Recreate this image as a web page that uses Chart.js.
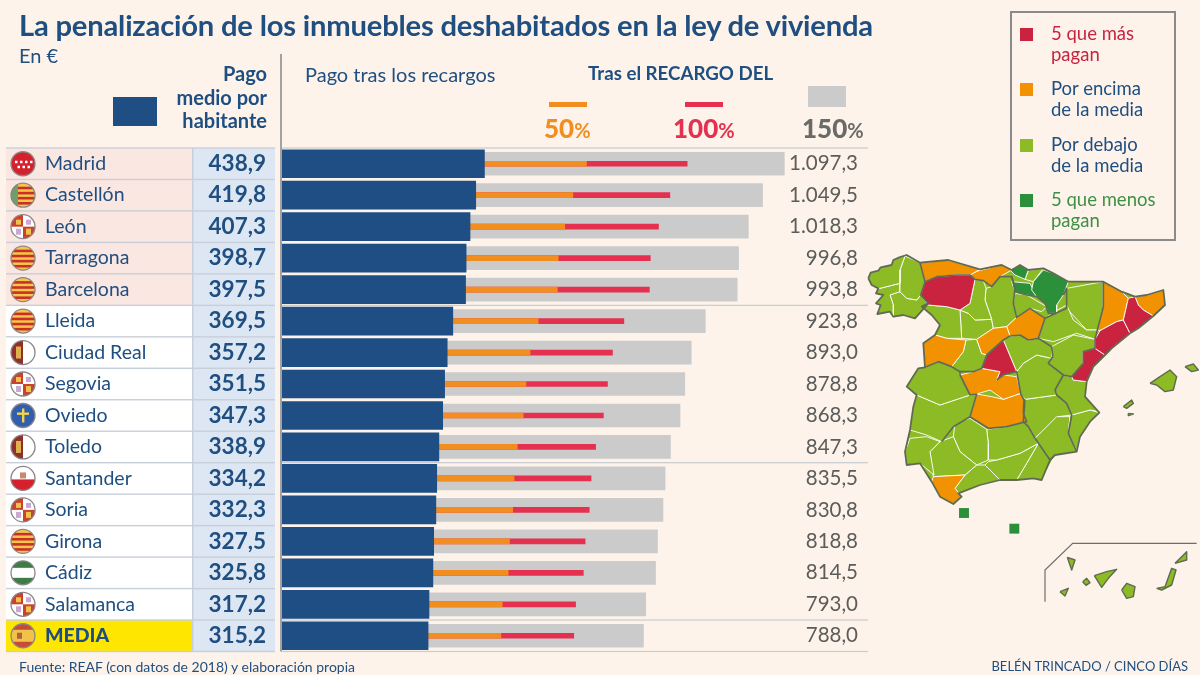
<!DOCTYPE html>
<html>
<head>
<meta charset="utf-8">
<title>La penalización de los inmuebles deshabitados en la ley de vivienda</title>
<script src="https://cdn.jsdelivr.net/npm/chart.js@4"></script>
<style>
	html, body { margin: 0; padding: 0; background: #fdf3ea; }
	body { width: 1200px; height: 675px; position: relative; overflow: hidden; font-family: Lato, sans-serif; color: #1f4e80; }
	canvas { position: absolute; }
	.t { position: absolute; white-space: nowrap; line-height: 1; }
	.b { font-weight: 700; }
	.sw { position: absolute; }
	.big { font-size: 26px; font-weight: 900; }
	.pc { font-size: 20px; font-weight: 700; }
	.ley { font-size: 18.5px; line-height: 20.5px; }
</style>
</head>
<body>
<canvas id="barras" width="1200" height="675" style="left:0;top:0"></canvas>
<canvas id="mapa" width="340" height="400" style="left:860px;top:240px"></canvas>

<div class="t b" id="titulo" style="left:19px;top:10px;font-size:29.2px;letter-spacing:-0.2px">La penalización de los inmuebles deshabitados en la ley de vivienda</div>
<div class="t" style="left:19px;top:45px;font-size:20px">En €</div>
<div class="t b" style="right:933px;top:63px;font-size:20px">Pago</div>
<div class="t b" style="right:933px;top:87px;font-size:20px">medio por</div>
<div class="t b" style="right:933px;top:110px;font-size:20px">habitante</div>
<div class="sw" style="left:113px;top:97px;width:44px;height:29px;background:#1f4e85"></div>
<div class="t" style="left:305px;top:64px;font-size:20px">Pago tras los recargos</div>
<div class="t b" style="left:588px;top:64px;font-size:18.7px">Tras el RECARGO DEL</div>
<div class="sw" style="left:549px;top:102px;width:38px;height:5px;background:#f28e1f"></div>
<div class="sw" style="left:685px;top:102px;width:38px;height:5px;background:#e5304f"></div>
<div class="sw" style="left:808px;top:86px;width:38px;height:21px;background:#cbcbcb"></div>
<div class="t" style="left:544px;top:115px;color:#f28e1f"><span class="big">50</span><span class="pc">%</span></div>
<div class="t" style="left:673px;top:115px;color:#e5304f"><span class="big">100</span><span class="pc">%</span></div>
<div class="t" style="left:802px;top:115px;color:#6a6a68"><span class="big">150</span><span class="pc">%</span></div>
<div class="t" style="left:19px;top:660px;font-size:14px">Fuente: REAF (con datos de 2018) y elaboración propia</div>
<div class="t" style="right:12px;top:660px;font-size:13px">BELÉN TRINCADO / CINCO DÍAS</div>

<div style="position:absolute;left:1010px;top:11px;width:162px;height:226px;border:2px solid #8a8a8a;box-sizing:content-box"></div>
<div class="sw" style="left:1020px;top:28px;width:13px;height:13px;background:#c9233f"></div>
<div class="sw" style="left:1020px;top:83px;width:13px;height:13px;background:#f39200"></div>
<div class="sw" style="left:1020px;top:139px;width:13px;height:13px;background:#8dbb25"></div>
<div class="sw" style="left:1020px;top:194px;width:13px;height:13px;background:#2c8f3a"></div>
<div class="t ley" style="left:1051px;top:23px;color:#c9233f">5 que más<br>pagan</div>
<div class="t ley" style="left:1051px;top:78px">Por encima<br>de la media</div>
<div class="t ley" style="left:1051px;top:134px">Por debajo<br>de la media</div>
<div class="t ley" style="left:1051px;top:189px;color:#3f8f45">5 que menos<br>pagan</div>

<script>
	// datos
	var ciudades = ["Madrid","Castellón","León","Tarragona","Barcelona","Lleida","Ciudad Real","Segovia","Oviedo","Toledo","Santander","Soria","Girona","Cádiz","Salamanca","MEDIA"];
	var pagoMedio = [438.9,419.8,407.3,398.7,397.5,369.5,357.2,351.5,347.3,338.9,334.2,332.3,327.5,325.8,317.2,315.2];
	var recargo50 = [663,633,615,601,599,557,539,530,524,511,504,501,494,491,478,475];
	var recargo100 = [884,846,821,803,801,745,720,709,700,683,673,669,660,656,639,635];
	var recargo150 = [1097.3,1049.5,1018.3,996.8,993.8,923.8,893.0,878.8,868.3,847.3,835.5,830.8,818.8,814.5,793.0,788.0];
	var escudos = ["mad","val","cyl","cat","cat","cat","clm","cyl","ast","clm","can","cyl","cat","and","cyl","esp"];

	// contornos del mapa, en unidades del propio mapa
	var peninsula = [25,115,32,98,55,92,62,82,95,75,100,60,118,52,140,45,180,68,265,60,360,88,425,75,455,90,480,75,505,90,550,85,580,100,625,125,730,125,785,155,825,170,860,165,910,150,915,195,880,228,835,265,810,280,755,325,735,345,700,380,680,425,675,470,718,518,690,545,660,590,650,635,585,645,570,660,545,720,520,715,470,720,420,720,360,735,295,760,305,770,280,792,240,770,215,725,180,670,140,675,135,635,150,570,160,500,170,465,140,440,175,385,195,382,190,310,225,285,240,255,215,225,185,200,205,190,165,235,130,225,100,230,90,215,52,222,62,195,48,190,70,165,48,160,55,145,35,135,25,115];
	var rojo = {
		leon: [195,125,230,110,290,105,330,105,345,118,330,190,300,210,260,200,205,195,182,165],
		madrid: [430,300,470,395,430,405,410,420,420,395,365,385,380,345],
		barcelona: [805,175,825,170,835,195,850,210,880,228,835,265,810,280,790,240],
		tarragona: [720,272,770,245,790,240,810,280,755,325,735,345,705,325,705,298],
		castellon: [670,335,705,325,735,345,700,380,680,425,640,420,635,410,670,370]
	};
	var naranja = {
		asturias: [180,68,265,60,360,88,330,105,290,105,230,110,195,125],
		cantabria: [345,95,425,75,455,90,420,110,395,140,370,122,345,118,330,105,360,88],
		segovia: [350,298,400,265,440,260,450,288,430,300,380,345,365,340],
		soria: [440,260,470,232,510,205,555,235,535,295,505,300,480,285,450,288],
		lleida: [730,125,785,155,805,175,790,240,770,245,720,272,712,270,730,200],
		girona: [825,170,860,165,910,150,915,195,880,228,850,210,835,195],
		salamanca: [225,285,260,295,318,300,310,335,275,380,235,365,195,382,190,310],
		toledo: [300,405,340,395,365,385,420,395,410,420,430,405,470,410,482,460,430,478,390,450,350,462,330,465],
		ciudadReal: [350,462,395,470,430,478,482,460,492,480,490,520,500,545,440,560,385,565,330,530],
		cadiz: [220,710,315,705,285,745,305,770,280,792,240,770,215,725]
	};
	var verde = {
		coruna: [25,115,32,98,55,92,62,82,95,75,100,60,118,52,135,48,120,90,120,130,60,145,55,145,35,135],
		lugo: [135,48,180,68,195,125,182,165,170,180,140,175,120,155,120,90],
		pontevedra: [55,145,60,145,120,130,120,155,90,165,100,195,100,230,90,215,52,222,62,195,48,190,70,165,48,160],
		ourense: [90,165,120,155,140,175,170,180,182,165,205,190,165,235,130,225,100,230,100,195],
		palencia: [345,118,370,122,378,145,375,180,395,238,345,240,325,220,300,210,330,190],
		burgos: [378,145,395,140,420,110,455,110,465,145,460,190,470,232,440,260,400,265,395,238,375,180],
		zamora: [205,195,260,200,300,210,305,295,260,295,225,285,240,255,215,225,185,200],
		valladolid: [300,210,325,220,345,240,395,238,400,265,350,298,305,295],
		avila: [318,300,350,298,365,340,380,345,365,385,340,395,300,395,275,380,310,335],
		guadalajara: [450,288,480,285,505,300,535,295,575,320,575,355,530,345,490,370,470,395,430,300],
		cuenca: [470,395,490,370,530,345,575,355,565,370,610,405,585,450,590,465,495,478,482,460,470,410],
		teruel: [575,320,640,285,705,298,705,325,670,335,670,370,635,410,610,405,565,370,578,350],
		zaragoza: [535,295,555,235,575,220,620,195,640,240,680,270,712,270,705,298,650,280,580,305],
		huesca: [620,145,730,125,730,200,712,270,680,270,620,205],
		rioja: [465,160,500,165,560,200,545,215,510,205,470,232,460,190],
		guipuzcoa: [505,92,550,85,520,125,495,118],
		valencia: [610,405,635,410,640,420,680,425,675,470,718,515,690,510,635,525,620,490,590,465,585,450],
		alicante: [635,525,690,510,718,518,690,545,660,590,650,630,625,580,630,530],
		murcia: [525,595,590,530,630,530,625,580,650,635,585,645,570,660],
		albacete: [495,478,590,465,620,490,635,525,595,530,525,595,505,560,490,545],
		caceres: [175,385,235,365,275,380,300,395,300,405,330,465,240,495,170,465,140,440],
		badajoz: [170,465,240,495,330,465,350,462,330,530,280,560,245,605,200,585,150,570,160,500],
		huelva: [135,635,150,595,200,590,240,605,210,635,222,705,180,670,140,675],
		sevilla: [210,635,240,605,280,590,300,635,350,675,315,705,220,710],
		cordoba: [280,590,285,550,330,535,380,568,385,610,385,660,350,675,300,635],
		jaen: [380,568,440,560,500,545,525,595,535,610,480,640,410,660,385,660,385,610],
		granada: [385,665,410,660,480,640,535,610,500,670,470,720,420,720,375,675],
		almeria: [535,610,580,655,545,720,520,715,470,720,500,670],
		malaga: [315,705,350,675,375,675,420,720,360,735,295,760,285,745],
		mallorca: [870,430,900,410,930,390,950,410,940,450,915,455,890,435],
		menorca: [975,380,1000,372,1015,390,995,395],
		ibiza: [790,500,815,480,820,490,800,505],
		formentera: [805,520,820,522,805,527],
		hierro: [600,1055,625,1045,615,1068],
		palma: [622,952,645,960,635,990],
		gomera: [668,1025,680,1015,690,1028,678,1036],
		tenerife: [703,1007,740,995,770,988,745,1015,725,1042],
		granCanaria: [785,1050,800,1030,825,1040,820,1070,800,1075],
		fuerteventura: [890,1045,915,1040,935,985,948,990,935,1035,905,1050],
		lanzarote: [945,970,965,950,980,935,980,960]
	};
	var verdeOscuro = {
		navarra: [520,125,550,90,580,100,625,125,610,165,590,195,590,220,565,220,555,190,530,170,515,150],
		alava: [455,125,510,130,520,150,530,170,500,165,465,155],
		vizcaya: [450,90,480,75,505,90,495,118,465,105]
	};
	var comunidades = [
		[180,68,195,125,182,165,205,190],
		[195,125,230,110,290,105,330,105,345,118,370,122,395,140,420,110,455,110,465,145,460,190,470,232,510,205,555,235,535,295,505,300,480,285,450,288,430,300,380,345,365,385,340,395,300,395,275,380,235,365,195,382],
		[620,145,620,205,555,235],
		[575,320,535,295],
		[575,320,578,350,565,370,610,405,585,450,590,465,620,490,635,525,625,580,650,635],
		[525,595,570,660],
		[610,405,635,410,670,370,670,335,705,325,705,298,712,270,730,200,730,125],
		[465,155,500,165,530,170,555,190,565,220,590,220],
		[280,560,245,605],
		[330,530,385,565,440,560,500,545,490,520,492,480,482,460,470,395,430,405,410,420],
		[300,395,300,405,330,465,350,462,330,530,280,560],
		[465,155,460,125,455,110],
		[495,478,490,545,505,560,525,595],
		[620,145,610,165]
	];
	var marcoCanarias = [555,1085,555,990,638,910,1010,910];
	var ceutaMelilla = [[312,819],[463,866]];

	var AZUL = "#1f4e80";
	var VERDE_MAPA = "#8dbb25";
	var CONTORNO = "#5f6a50";

	function puntos(lista) {
		var pts = [];
		for (var i = 0; i < lista.length; i += 2) {
			pts.push({x: lista[i], y: lista[i + 1]});
		}
		return pts;
	}

	function formato(v) {
		var s = v.toFixed(1).replace(".", ",");
		if (v >= 1000) s = s.charAt(0) + "." + s.slice(1);
		return s;
	}

	// escudos redondos de cada fila
	function escudo(ctx, tipo, x, y) {
		var r = 12;
		ctx.save();
		ctx.beginPath();
		ctx.arc(x, y, r, 0, Math.PI * 2);
		ctx.clip();
		ctx.fillStyle = "#ffffff";
		ctx.fillRect(x - r, y - r, r * 2, r * 2);
		var i;
		if (tipo == "mad") {
			ctx.fillStyle = "#d5202e";
			ctx.fillRect(x - r, y - r, r * 2, r * 2);
			ctx.fillStyle = "#ffffff";
			for (i = 0; i < 4; i++) { ctx.fillRect(x - 8 + i * 5, y - 3, 2.5, 2.5); }
			for (i = 0; i < 3; i++) { ctx.fillRect(x - 5.5 + i * 5, y + 2, 2.5, 2.5); }
		} else if (tipo == "cat" || tipo == "val") {
			ctx.fillStyle = "#f5c748";
			ctx.fillRect(x - r, y - r, r * 2, r * 2);
			ctx.fillStyle = "#c9302c";
			for (i = 0; i < 4; i++) { ctx.fillRect(x - r, y - 8.5 + i * 5.1, r * 2, 2.6); }
			if (tipo == "val") {
				ctx.fillStyle = "#6f9e6a";
				ctx.fillRect(x - r, y - r, 7, r * 2);
			}
		} else if (tipo == "cyl") {
			ctx.fillStyle = "#c8432f";
			ctx.fillRect(x - r, y - r, r, r);
			ctx.fillRect(x, y, r, r);
			ctx.fillStyle = "#f0c24a";
			ctx.fillRect(x - 7, y - 7, 5, 5);
			ctx.fillRect(x + 3, y + 2, 5, 6);
			ctx.fillStyle = "#c9a8d2";
			ctx.fillRect(x + 3, y - 7, 5, 5);
			ctx.fillRect(x - 7, y + 2, 5, 6);
		} else if (tipo == "clm") {
			ctx.fillStyle = "#8f2f2a";
			ctx.fillRect(x - r, y - r, r, r * 2);
			ctx.fillStyle = "#e0b04a";
			ctx.fillRect(x - 7, y - 6, 5, 12);
		} else if (tipo == "ast") {
			ctx.fillStyle = "#2f5fae";
			ctx.fillRect(x - r, y - r, r * 2, r * 2);
			ctx.fillStyle = "#f3d34a";
			ctx.fillRect(x - 1, y - 7, 2.4, 14);
			ctx.fillRect(x - 6, y - 3, 12, 2.4);
		} else if (tipo == "can") {
			ctx.fillStyle = "#d5202e";
			ctx.fillRect(x - r, y + 1, r * 2, r);
			ctx.fillStyle = "#c98a6a";
			ctx.fillRect(x - 3, y - 6, 6, 6);
		} else if (tipo == "and") {
			ctx.fillStyle = "#3c7d45";
			ctx.fillRect(x - r, y - r, r * 2, 7);
			ctx.fillRect(x - r, y + r - 7, r * 2, 7);
		} else if (tipo == "esp") {
			ctx.fillStyle = "#c94a35";
			ctx.fillRect(x - r, y - r, r * 2, r * 2);
			ctx.fillStyle = "#f0c24a";
			ctx.fillRect(x - r, y - 6, r * 2, 12);
			ctx.fillStyle = "#b5603a";
			ctx.fillRect(x - 6, y - 3, 5, 6);
		}
		ctx.restore();
		ctx.beginPath();
		ctx.arc(x, y, r, 0, Math.PI * 2);
		ctx.strokeStyle = "#8b8688";
		ctx.lineWidth = 1.3;
		ctx.stroke();
	}

	// tabla de la izquierda, filas y cifras finales
	var tablaPlugin = {
		id: "tabla",
		beforeDatasetsDraw: function(chart) {
			var ctx = chart.ctx, y = chart.scales.y;
			var alto = y.getPixelForValue(1) - y.getPixelForValue(0);
			ctx.save();
			for (var i = 0; i < ciudades.length; i++) {
				var yc = y.getPixelForValue(i);
				ctx.fillStyle = i < 5 ? "#fbe7e2" : (i == 15 ? "#ffe600" : "#ffffff");
				ctx.fillRect(6, yc - alto / 2, 187, alto);
				ctx.fillStyle = "#dde6f3";
				ctx.fillRect(193, yc - alto / 2, 82, alto);
				ctx.fillStyle = "#c9cfd9";
				ctx.fillRect(6, yc - alto / 2 - 0.7, 269, 1.4);
			}
			ctx.fillRect(6, y.bottom - 0.7, 269, 1.4);
			ctx.fillRect(192, y.top, 1.4, y.bottom - y.top);
			// lineas de grupo en la zona de barras
			ctx.fillStyle = "#c9cbcf";
			[0, 5, 10, 15, 16].forEach(function(n) {
				ctx.fillRect(282, y.top + n * alto - 0.6, 586, 1.2);
			});
			ctx.fillStyle = "#a2a2a2";
			ctx.fillRect(280, 54, 2, y.bottom - 54);
			ctx.restore();
		},
		afterDatasetsDraw: function(chart) {
			var ctx = chart.ctx, y = chart.scales.y;
			ctx.save();
			ctx.textBaseline = "middle";
			for (var i = 0; i < ciudades.length; i++) {
				var yc = y.getPixelForValue(i);
				escudo(ctx, escudos[i], 23, yc);
				ctx.textAlign = "left";
				ctx.fillStyle = AZUL;
				ctx.font = (i == 15 ? "900 " : "400 ") + "19.5px Lato";
				ctx.fillText(ciudades[i], 45, yc);
				ctx.textAlign = "right";
				ctx.font = "700 22.5px Lato";
				ctx.fillText(formato(pagoMedio[i]), 266, yc);
				ctx.fillStyle = "#5c5c5a";
				ctx.font = "400 20.5px Lato";
				ctx.fillText(formato(recargo150[i]), 858, yc);
			}
			ctx.restore();
		}
	};

	new Chart(document.getElementById("barras").getContext("2d"), {
		type: "bar",
		data: {
			labels: ciudades,
			datasets: [
				{label: "Pago medio por habitante", data: pagoMedio, backgroundColor: "#1f4e85", barThickness: 28, base: -5.5, grouped: false},
				{label: "50%", data: recargo50, backgroundColor: "#f28e1f", barThickness: 5, grouped: false},
				{label: "100%", data: recargo100, backgroundColor: "#e5304f", barThickness: 5, grouped: false},
				{label: "150%", data: recargo150, backgroundColor: "#cbcbcb", barThickness: 23, grouped: false}
			]
		},
		options: {
			indexAxis: "y",
			responsive: false,
			animation: false,
			layout: {padding: {left: 282, right: 332, top: 148, bottom: 23.5}},
			plugins: {legend: {display: false}, tooltip: {enabled: false}, title: {display: false}},
			scales: {
				x: {display: false, min: -5.5, max: 1281},
				y: {display: false, offset: true}
			}
		},
		plugins: [tablaPlugin]
	});

	// mapa: cada provincia es una linea cerrada rellena
	var capas = [];
	capas.push({data: puntos(peninsula), showLine: true, fill: false, borderColor: CONTORNO, borderWidth: 1.8, pointRadius: 0, borderJoinStyle: "round"});
	comunidades.forEach(function(c) {
		capas.push({data: puntos(c), showLine: true, fill: false, borderColor: CONTORNO, borderWidth: 1.7, pointRadius: 0, borderJoinStyle: "round"});
	});
	capas.push({data: puntos(marcoCanarias), showLine: true, fill: false, borderColor: "#6e6e6e", borderWidth: 1.2, pointRadius: 0});
	capas.push({data: ceutaMelilla.map(function(p) { return {x: p[0], y: p[1]}; }), showLine: false, pointStyle: "rect", pointRadius: 7, backgroundColor: "#2c8f3a", borderWidth: 0});

	function provincias(grupo, color) {
		Object.keys(grupo).forEach(function(nombre) {
			var c = grupo[nombre].concat(grupo[nombre].slice(0, 2));
			var isla = grupo[nombre][1] > 800 || (grupo[nombre][0] > 785 && grupo[nombre][1] > 300);
			capas.push({label: nombre, data: puntos(c), showLine: true, fill: "shape", backgroundColor: color,
				borderColor: isla ? CONTORNO : "#ffffff", borderWidth: isla ? 1.4 : 0.9, pointRadius: 0, borderJoinStyle: "round"});
		});
	}
	provincias(rojo, "#c9233f");
	provincias(naranja, "#f39200");
	provincias(verdeOscuro, "#2c8f3a");
	provincias(verde, VERDE_MAPA);
	capas.push({label: "fondo", data: puntos(peninsula), showLine: true, fill: "shape", backgroundColor: VERDE_MAPA, borderWidth: 0, pointRadius: 0});

	new Chart(document.getElementById("mapa").getContext("2d"), {
		type: "scatter",
		data: {datasets: capas},
		options: {
			responsive: false,
			animation: false,
			layout: {autoPadding: false},
			plugins: {legend: {display: false}, tooltip: {enabled: false}},
			scales: {
				x: {display: false, min: 0, max: 1020},
				y: {display: false, min: 0, max: 1200, reverse: true}
			}
		}
	});
</script>
</body>
</html>
